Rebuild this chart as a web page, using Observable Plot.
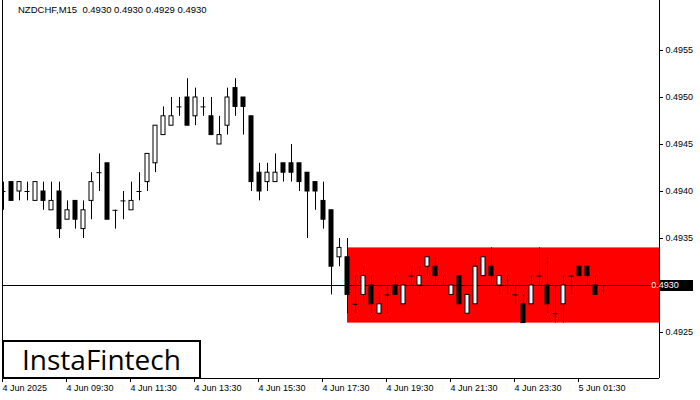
<!DOCTYPE html>
<html>
<head>
<meta charset="utf-8">
<script src="https://cdn.jsdelivr.net/npm/d3@7"></script>
<script src="https://cdn.jsdelivr.net/npm/@observablehq/plot@0.6"></script>
<style>
  body { margin: 0; background: #fff; }
  #wrap { position: relative; width: 700px; height: 400px; overflow: hidden; background: #fff; }
  #wrap svg { position: absolute; left: 0; top: 0; }
  #title { position: absolute; left: 18px; top: 5px; font-family: "Liberation Sans", Arial, sans-serif; font-size: 9.5px; line-height: 1; white-space: pre; color: #000; }
  #logo { position: absolute; left: 2px; top: 340px; width: 199px; height: 39px; border: 2px solid #000; background: #fff;
          font-family: "Open Sans", sans-serif; font-size: 28px; line-height: 35px; color: #000; padding-left: 18px; box-sizing: border-box; }
</style>
</head>
<body>
<div id="wrap">
  <div id="chart"></div>
  <div id="title"></div>
  <div id="logo">InstaFintech</div>
</div>
<script>
// ---- data (NZDCHF M15, 4 Jun 2025 07:30 .. 5 Jun 2025 02:15) ----
const symbol = "NZDCHF,M15";
const opens  = [0.4940,0.4941,0.4940,0.4940,0.4939,0.4940,0.4938,0.4940,0.4937,0.4939,
                0.4936,0.4939,0.4942,0.4943,0.4938,0.4939,0.4938,0.4940,0.4941,0.4943,
                0.4946,0.4947,0.4949,0.4950,0.4948,0.4949,0.4948,0.4945,0.4947,0.4951,
                0.4950,0.4948,0.4942,0.4941,0.4941,0.4943,0.4943,0.4943,0.4942,0.4941,
                0.4939,0.4938,0.4933,0.4933,0.4928,0.4929,0.4930,0.4927,0.4929,0.4930,
                0.4928,0.4931,0.4930,0.4932,0.4932,0.4930,0.4929,0.4931,0.4927,0.4928,
                0.4931,0.4932,0.4930,0.4930,0.4929,0.4928,0.4928,0.4931,0.4930,0.4927,
                0.4928,0.4931,0.4932,0.4932,0.4930,0.4930];
const highs  = [0.4941,0.4941,0.4941,0.4941,0.4941,0.4941,0.4941,0.4941,0.4939,0.4939,
                0.4939,0.4942,0.4944,0.4943,0.4938,0.4940,0.4941,0.4942,0.4944,0.4947,
                0.4949,0.4950,0.4950,0.4952,0.4951,0.4950,0.4950,0.4948,0.4951,0.4952,
                0.4950,0.4948,0.4943,0.4943,0.4944,0.4943,0.4945,0.4943,0.4942,0.4941,
                0.4941,0.4938,0.4935,0.4935,0.4931,0.4932,0.4931,0.4929,0.4930,0.4931,
                0.4930,0.4932,0.4932,0.4933,0.4933,0.4931,0.4930,0.4931,0.4929,0.4933,
                0.4933,0.4934,0.4931,0.4931,0.4930,0.4929,0.4931,0.4934,0.4933,0.4930,
                0.4931,0.4931,0.4932,0.4932,0.4931,0.4930];
const lows   = [0.4938,0.4939,0.4939,0.4939,0.4939,0.4938,0.4938,0.4935,0.4937,0.4936,
                0.4935,0.4937,0.4940,0.4937,0.4936,0.4937,0.4938,0.4939,0.4940,0.4942,
                0.4946,0.4947,0.4948,0.4947,0.4947,0.4948,0.4946,0.4945,0.4946,0.4948,
                0.4946,0.4940,0.4939,0.4940,0.4941,0.4941,0.4941,0.4940,0.4935,0.4938,
                0.4936,0.4929,0.4932,0.4927,0.4927,0.4928,0.4927,0.4927,0.4927,0.4929,
                0.4928,0.4930,0.4929,0.4931,0.4930,0.4930,0.4929,0.4928,0.4927,0.4928,
                0.4931,0.4930,0.4929,0.4929,0.4928,0.4926,0.4928,0.4930,0.4927,0.4926,
                0.4926,0.4929,0.4931,0.4930,0.4929,0.4929];
const closes = [0.4940,0.4939,0.4941,0.4940,0.4941,0.4939,0.4939,0.4936,0.4938,0.4937,
                0.4938,0.4941,0.4942,0.4937,0.4938,0.4939,0.4939,0.4940,0.4944,0.4947,
                0.4948,0.4948,0.4949,0.4947,0.4950,0.4949,0.4946,0.4946,0.4950,0.4949,
                0.4949,0.4941,0.4940,0.4942,0.4942,0.4942,0.4942,0.4941,0.4940,0.4940,
                0.4937,0.4932,0.4934,0.4929,0.4928,0.4931,0.4928,0.4928,0.4929,0.4929,
                0.4930,0.4931,0.4931,0.4933,0.4931,0.4930,0.4930,0.4928,0.4929,0.4932,
                0.4933,0.4931,0.4931,0.4930,0.4929,0.4926,0.4930,0.4931,0.4928,0.4927,
                0.4930,0.4931,0.4931,0.4931,0.4929,0.4930];
// pattern zone (red rectangle): starts at bar 43, price band
const zoneStartBar = 43;
const zoneLow = 0.4926;
const zoneHigh = 0.4934;
// axis ticks
const yTicks = [0.4925, 0.4930, 0.4935, 0.4940, 0.4945, 0.4950, 0.4955];
const xTickBars = [0, 8, 16, 24, 32, 40, 48, 56, 64, 72];
const xTickLabels = ["4 Jun 2025","4 Jun 09:30","4 Jun 11:30","4 Jun 13:30","4 Jun 15:30",
                     "4 Jun 17:30","4 Jun 19:30","4 Jun 21:30","4 Jun 23:30","5 Jun 01:30"];

// ---- build table ----
const bars = opens.map((o, i) => ({i, open: o, high: highs[i], low: lows[i], close: closes[i]}));
const bodies = bars.filter(d => d.open !== d.close);
const dojis = bars.filter(d => d.open === d.close);
const last = bars[bars.length - 1];

document.getElementById("title").textContent =
  `${symbol}  ${last.open.toFixed(4)} ${last.high.toFixed(4)} ${last.low.toFixed(4)} ${last.close.toFixed(4)}`;

const xDomain = [-0.125, 82];
const yDomain = [0.49201064, 0.49603191];
const font = '"Liberation Sans", Arial, sans-serif';
// the current price is shown in its own black label, so its plain tick label is left out
const yTickLabelled = yTicks.filter(v => Math.abs(v - last.close) > 1e-9);

const chart = Plot.plot({
  width: 700, height: 400,
  marginLeft: 2, marginRight: 41, marginTop: 0, marginBottom: 22,
  x: {type: "linear", domain: xDomain, axis: null, label: null},
  y: {type: "linear", domain: yDomain, axis: null, label: null},
  style: {fontFamily: font, fontSize: "9px", color: "#000", background: "transparent", overflow: "visible"},
  marks: [
    Plot.rect([{}], {x1: zoneStartBar, x2: xDomain[1], y1: zoneLow, y2: zoneHigh, fill: "#ff0000"}),
    Plot.ruleY([last.close], {stroke: "#000", strokeWidth: 1}),
    Plot.ruleX(bars, {x: "i", y1: "low", y2: "high", stroke: "#000", clip: true}),
    Plot.rect(bodies, {x1: d => d.i - 0.25, x2: d => d.i + 0.25, y1: "open", y2: "close",
                       fill: d => d.close > d.open ? "#fff" : "#000", stroke: "#000", strokeWidth: 1}),
    Plot.ruleY(dojis, {y: "open", x1: d => d.i - 0.3125, x2: d => d.i + 0.3125, stroke: "#000", clip: true}),
    Plot.ruleX([xDomain[0]], {stroke: "#000"}),
    Plot.ruleX([xDomain[1]], {stroke: "#000"}),
    Plot.ruleY([yDomain[0]], {stroke: "#000"}),
    Plot.axisY(yTicks, {anchor: "right", tickSize: 3, text: null, label: null, stroke: "#000"}),
    Plot.axisY(yTickLabelled, {anchor: "right", tickSize: 3, tickPadding: 3, textAnchor: "start", label: null,
                        tickFormat: d => d.toFixed(4), fontSize: 9, fill: "#000"}),
    Plot.axisX(xTickBars, {anchor: "bottom", tickSize: 4, tickPadding: 2, textAnchor: "start", dx: -1, label: null,
                           tickFormat: d => xTickLabels[xTickBars.indexOf(d)], fontSize: 9, stroke: "#000", fill: "#000"})
  ]
});
document.getElementById("chart").appendChild(chart);

// current price label on the right scale
const svg = d3.select(chart);
const yPx = chart.scale("y").apply(last.close);
const xRight = chart.scale("x").apply(xDomain[1]);
const g = svg.append("g");
g.append("rect").attr("x", xRight + 1).attr("y", yPx - 5).attr("width", 33).attr("height", 11).attr("fill", "#000");
g.append("text").attr("x", xRight + 6).attr("y", yPx).attr("dy", "0.35em")
  .attr("fill", "#fff").attr("font-family", font).attr("font-size", 9)
  .text(last.close.toFixed(4));
</script>
</body>
</html>
